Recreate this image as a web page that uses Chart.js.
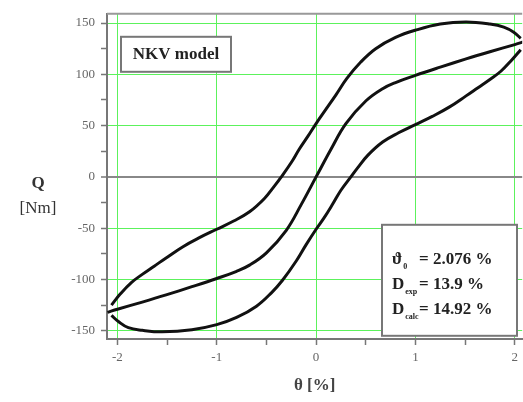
<!DOCTYPE html>
<html>
<head>
<meta charset="utf-8">
<script src="https://cdn.jsdelivr.net/npm/chart.js@4/dist/chart.umd.min.js"></script>
<style>
    html, body { margin: 0; padding: 0; background: #fff; }
    canvas { display: block; }
</style>
</head>
<body>
<canvas id="graficoHisterese" width="523" height="402"></canvas>
<script>
// Upper branch of the loop (left tip -> peak -> right tip)
const upperX = [-2.06, -1.97, -1.86, -1.75, -1.63, -1.51, -1.34, -1.17, -1.0, -0.83, -0.67, -0.52, -0.42, -0.35, -0.25, -0.17, -0.08, 0.0, 0.1, 0.2, 0.31, 0.45, 0.6, 0.8, 1.0, 1.25, 1.51, 1.75, 1.89, 1.99, 2.06];
const upperY = [-125, -114, -103, -95, -87, -79, -68, -59, -51, -43, -34, -21, -9, 0, 14, 27, 40, 52, 66, 80, 96, 112, 125, 136, 143, 149, 151, 149, 146, 141, 135];

// Lower branch of the loop
const lowerX = [-2.06, -1.99, -1.89, -1.75, -1.55, -1.25, -1.0, -0.8, -0.6, -0.45, -0.34, -0.2, -0.1, 0.0, 0.08, 0.17, 0.25, 0.35, 0.42, 0.52, 0.67, 0.83, 1.0, 1.17, 1.34, 1.51, 1.63, 1.75, 1.86, 1.97, 2.06];
const lowerY = [-135, -141, -147, -149.5, -151, -149, -144, -137, -126, -113, -101, -82, -66, -51, -40, -26, -13, 0, 9, 21, 34, 43, 51, 59, 68, 79, 87, 95, 103, 114, 124];

// Middle curve through the origin
const midX = [-2.1, -2.0, -1.75, -1.51, -1.25, -1.0, -0.8, -0.67, -0.5, -0.3, -0.15, 0.0, 0.15, 0.3, 0.5, 0.67, 0.8, 1.0, 1.25, 1.51, 1.75, 2.0, 2.1];
const midY = [-132, -129, -122, -115, -107, -99, -92, -86, -74, -52, -27, 0, 27, 52, 74, 86, 92, 99, 107, 115, 122, 129, 132];

// Axis ticks (minor ones carry no label)
const xTicks = [-2, -1.5, -1, -0.5, 0, 0.5, 1, 1.5, 2];
const yTicks = [-150, -125, -100, -75, -50, -25, 0, 25, 50, 75, 100, 125, 150];

// Text of the boxes
const modelName = 'NKV model';
const statSymbols = ['\u03D1', 'D', 'D'];
const statSubs = ['0', 'exp', 'calc'];
const statValues = ['= 2.076 %', '= 13.9 %', '= 14.92 %'];

const verde = '#5cf25c';
const transparente = 'rgba(0,0,0,0)';
const serif = '"Liberation Serif", "Times New Roman", serif';

function pontos(xs, ys) {
    return xs.map((x, i) => ({ x: x, y: ys[i] }));
}

function curva(xs, ys) {
    return {
        data: pontos(xs, ys),
        showLine: true,
        borderColor: '#111',
        borderWidth: 3,
        pointRadius: 0,
        tension: 0.4,
        fill: false
    };
}

// Boxes, frame and the horizontal y title
const extras = {
    id: 'extras',
    afterDatasetsDraw(chart) {
        const ctx = chart.ctx;
        const a = chart.chartArea;
        ctx.save();

        // top frame line
        ctx.strokeStyle = '#999';
        ctx.lineWidth = 2;
        ctx.beginPath();
        ctx.moveTo(a.left, a.top);
        ctx.lineTo(a.right, a.top);
        ctx.stroke();

        // model box
        ctx.fillStyle = '#fff';
        ctx.strokeStyle = '#777';
        ctx.lineWidth = 2;
        ctx.fillRect(a.left + 14, a.top + 23, 110, 35);
        ctx.strokeRect(a.left + 14, a.top + 23, 110, 35);
        ctx.fillStyle = '#222';
        ctx.font = 'bold 17px ' + serif;
        ctx.textAlign = 'center';
        ctx.textBaseline = 'middle';
        ctx.fillText(modelName, a.left + 69, a.top + 41);

        // results box
        const bx = a.left + 275, by = a.top + 211;
        ctx.fillStyle = '#fff';
        ctx.fillRect(bx, by, 135, 111);
        ctx.strokeRect(bx, by, 135, 111);
        ctx.fillStyle = '#222';
        ctx.textAlign = 'left';
        ctx.textBaseline = 'alphabetic';
        statSymbols.forEach((s, i) => {
            const y = by + 39 + i * 25;
            ctx.font = 'bold 17px ' + serif;
            ctx.fillText(s, bx + 10, y);
            const w = ctx.measureText(s).width;
            ctx.font = 'bold 8px ' + serif;
            ctx.fillText(statSubs[i], bx + 11 + w, y + 5);
            ctx.font = 'bold 17px ' + serif;
            ctx.fillText(statValues[i], bx + 37, y);
        });

        // y axis title written horizontally
        ctx.fillStyle = '#333';
        ctx.textAlign = 'center';
        ctx.textBaseline = 'middle';
        ctx.font = 'bold 17px ' + serif;
        ctx.fillText('Q', 38, 184);
        ctx.font = '17px ' + serif;
        ctx.fillText('[Nm]', 38, 209);
        ctx.restore();
    }
};

const config = {
    type: 'scatter',
    data: {
        datasets: [curva(upperX, upperY), curva(lowerX, lowerY), curva(midX, midY)]
    },
    options: {
        responsive: false,
        animation: false,
        events: [],
        layout: { padding: { top: 4, right: 0, left: 0, bottom: 0 } },
        plugins: {
            legend: { display: false },
            tooltip: { enabled: false }
        },
        scales: {
            x: {
                type: 'linear',
                min: -2.105,
                max: 2.075,
                afterBuildTicks: s => { s.ticks = xTicks.map(v => ({ value: v })); },
                afterFit: s => { s.height = 63; },
                border: { color: '#777', width: 2 },
                grid: {
                    color: c => (c.tick && Number.isInteger(c.tick.value)) ? verde : transparente,
                    lineWidth: 1,
                    tickColor: '#777',
                    tickLength: 6,
                    tickWidth: 1.5
                },
                ticks: {
                    autoSkip: false,
                    maxRotation: 0,
                    padding: 5,
                    color: '#666',
                    font: { family: serif, size: 13 },
                    callback: v => Number.isInteger(v) ? String(v) : ''
                },
                title: {
                    display: true,
                    text: '\u03B8 [%]',
                    color: '#444',
                    font: { family: serif, size: 17, weight: 'bold' },
                    padding: { top: 0, bottom: 6 }
                }
            },
            y: {
                type: 'linear',
                min: -158,
                max: 159,
                afterBuildTicks: s => { s.ticks = yTicks.map(v => ({ value: v })); },
                afterFit: s => { s.width = 107; },
                border: { color: '#777', width: 2 },
                grid: {
                    color: c => {
                        if (!c.tick) return transparente;
                        if (c.tick.value === 0) return '#888';
                        return c.tick.value % 50 === 0 ? verde : transparente;
                    },
                    lineWidth: c => (c.tick && c.tick.value === 0) ? 2 : 1,
                    tickColor: '#777',
                    tickLength: 6,
                    tickWidth: 1.5
                },
                ticks: {
                    autoSkip: false,
                    padding: 6,
                    color: '#666',
                    font: { family: serif, size: 13 },
                    callback: v => v % 50 === 0 ? String(v) : ''
                }
            }
        }
    },
    plugins: [extras]
};

const ctx = document.getElementById('graficoHisterese').getContext('2d');
const myChart = new Chart(ctx, config);
</script>
</body>
</html>
